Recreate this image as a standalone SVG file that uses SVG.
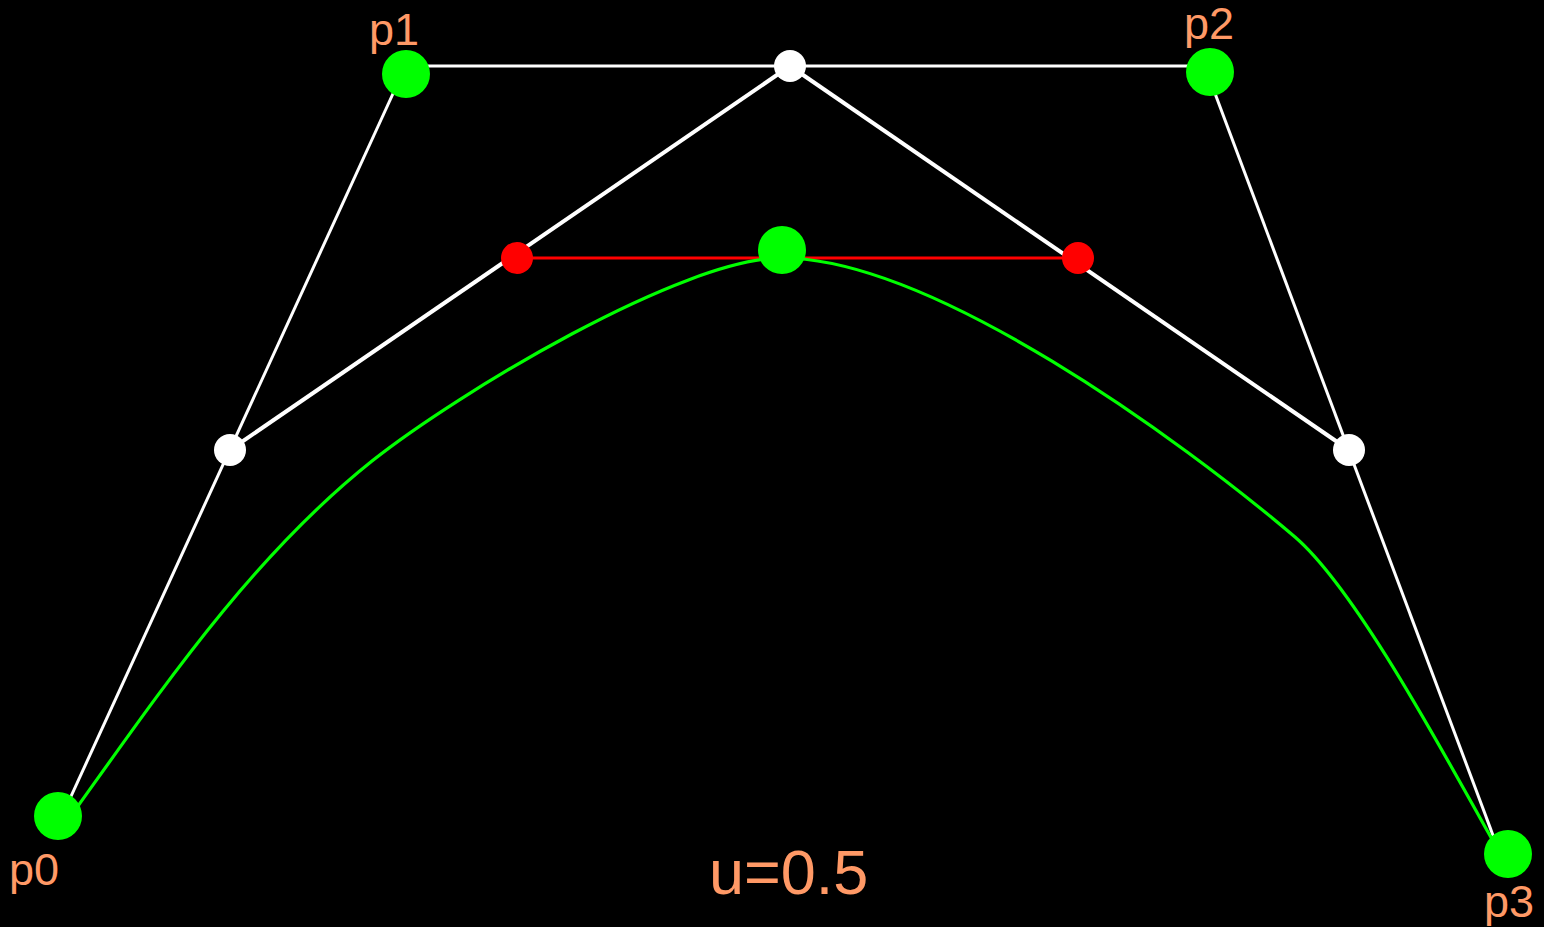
<svg xmlns="http://www.w3.org/2000/svg" width="1544" height="927" viewBox="0 0 1544 927">
<style>
.bg{fill:#000}
.thin{stroke:#fff;stroke-width:3;fill:none}
.mid{stroke:#fff;stroke-width:4;fill:none}
.red{stroke:#f00;stroke-width:3;fill:none}
.curve{stroke:#0f0;stroke-width:3.2;fill:none}
.cp{fill:#0f0}
.wp{fill:#fff}
.rp{fill:#f00}
.lbl{fill:#ff9966;font-family:"Liberation Sans",Arial,sans-serif;font-size:45px}
.big{fill:#ff9966;font-family:"Liberation Sans",Arial,sans-serif;font-size:63px}
</style>
<rect class="bg" x="0" y="0" width="1544" height="927"/>
<g id="connectors">
  <line class="thin" x1="62" y1="816" x2="402" y2="74"/>
  <line class="thin" x1="406" y1="66" x2="1210" y2="66"/>
  <line class="thin" x1="1207" y1="72" x2="1500" y2="854"/>
  <line class="mid" x1="230" y1="450" x2="790" y2="66"/>
  <line class="mid" x1="790" y1="66" x2="1349" y2="450"/>
  <line class="red" x1="517" y1="258" x2="1078" y2="258"/>
  <path class="curve" d="M70,814 L78,806 C166,683 254,555 372,461 C458,393 682,258 782,258 C932,258 1181,440 1295,537 C1360,593 1455,775 1497,848"/>
</g>
<g id="m01"><circle class="wp" cx="230" cy="450" r="16"/></g>
<g id="m12"><circle class="wp" cx="790" cy="66" r="16"/></g>
<g id="m23"><circle class="wp" cx="1349" cy="450" r="16"/></g>
<g id="q0"><circle class="rp" cx="517" cy="258" r="16"/></g>
<g id="q1"><circle class="rp" cx="1078" cy="258" r="16"/></g>
<g id="b"><circle class="cp" cx="782" cy="250" r="24"/></g>
<g id="p0"><circle class="cp" cx="58" cy="816" r="24"/><text class="lbl" x="9" y="885">p0</text></g>
<g id="p1"><circle class="cp" cx="406" cy="74" r="24"/><text class="lbl" x="369" y="45">p1</text></g>
<g id="p2"><circle class="cp" cx="1210" cy="72" r="24"/><text class="lbl" x="1184" y="39">p2</text></g>
<g id="p3"><circle class="cp" cx="1508" cy="854" r="24"/><text class="lbl" x="1484" y="917">p3</text></g>
<g id="label"><text class="big" x="709" y="894">u=0.5</text></g>
</svg>
